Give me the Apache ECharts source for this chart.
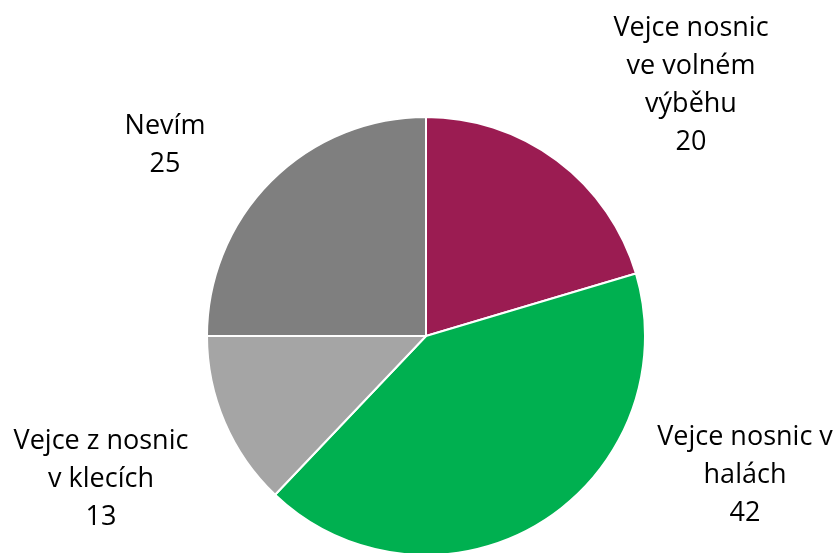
<!DOCTYPE html>
<html lang="cs">
  <head>
    <meta charset="UTF-8" />
    <title>Vejce</title>
    <script src="https://cdn.jsdelivr.net/npm/echarts@6/dist/echarts.min.js"></script>
    <style>
      html, body { margin: 0; padding: 0; background: #fff; }
      #main { width: 840px; height: 553px; }
    </style>
  </head>
  <body>
    <div id="main"></div>
    <script>
      var categories = [
        "Vejce nosnic\nve volném\nvýběhu",
        "Vejce nosnic v\nhalách",
        "Vejce z nosnic\nv klecích",
        "Nevím"
      ];
      // shares as the slices are drawn; labels show them rounded
      var values = [20.4, 41.7, 12.9, 25.0];
      var colors = ["#9B1C52", "#00B050", "#A5A5A5", "#7F7F7F"];

      // label centres, as in the original layout
      var labelPos = [[691, 85], [745, 475], [101, 479], [165, 145]];

      var chartDom = document.getElementById("main");
      var myChart = echarts.init(chartDom);
      var option = {
        animation: false,
        series: [
          {
            type: "pie",
            center: [426, 336],
            radius: 219,
            startAngle: 90,
            clockwise: true,
            data: categories.map(function (name, i) {
              return { name: name, value: values[i], itemStyle: { color: colors[i] } };
            }),
            itemStyle: { borderColor: "#fff", borderWidth: 2 },
            label: {
              show: true,
              position: "inside",
              formatter: function (p) {
                return p.name + "\n" + Math.round(p.value);
              },
              fontFamily: "Open Sans",
              fontSize: 27,
              lineHeight: 38,
              color: "#000",
              align: "center",
              overflow: "none"
            },
            labelLine: { show: false },
            labelLayout: function (params) {
              var p = labelPos[params.dataIndex];
              return { x: p[0], y: p[1], align: "center", verticalAlign: "middle" };
            }
          }
        ]
      };
      option && myChart.setOption(option);
    </script>
  </body>
</html>
